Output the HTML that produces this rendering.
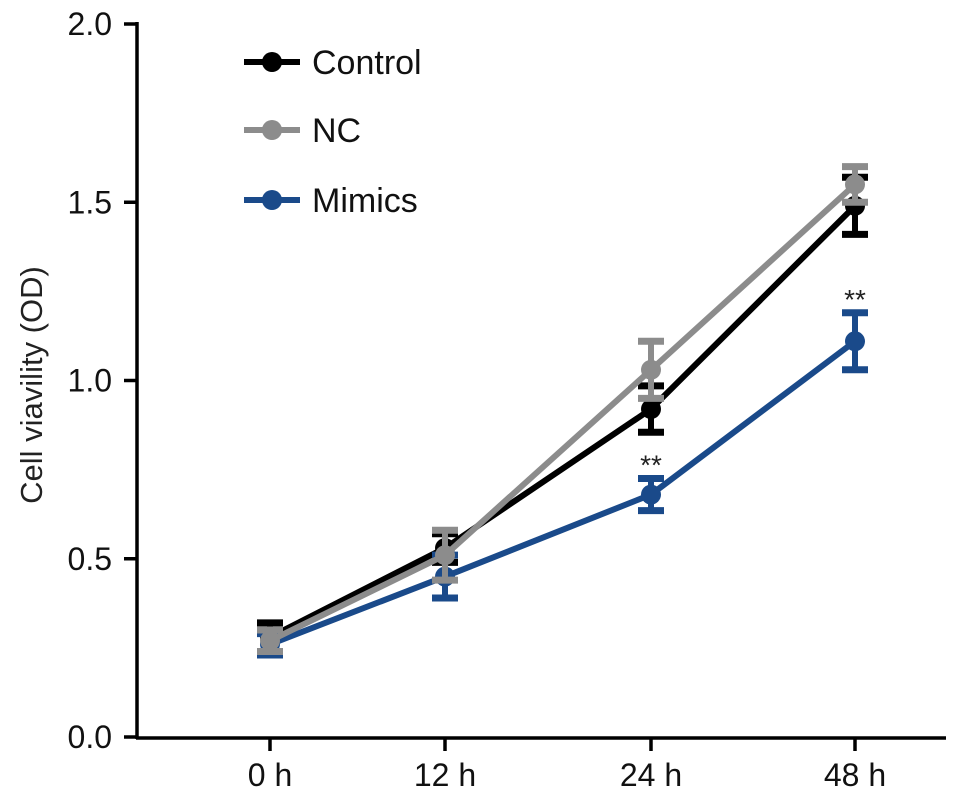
<!DOCTYPE html>
<html><head><meta charset="utf-8"><style>
body{margin:0;background:#fff}
text{font-family:"Liberation Sans",Arial,sans-serif}
</style></head><body>
<svg id="chart" width="969" height="794" xmlns="http://www.w3.org/2000/svg"></svg>
<script>
const categories=["0 h","12 h","24 h","48 h"];
const controlVals=[0.28,0.53,0.92,1.49];
const controlErr=[0.04,0.04,0.065,0.08];
const ncVals=[0.27,0.51,1.03,1.55];
const ncErr=[0.03,0.07,0.08,0.05];
const mimicsVals=[0.26,0.45,0.68,1.11];
const mimicsErr=[0.03,0.06,0.045,0.08];
const yTicks=[0,0.5,1.0,1.5,2.0];
const sigMarks=[null,null,"**","**"];

const NS="http://www.w3.org/2000/svg";
const svg=document.getElementById('chart');
const xPos=[270,445,651,855];
const xs=i=>xPos[i];
const ys=v=>737-v*356.5;
function mk(tag,attrs,parent){const e=document.createElementNS(NS,tag);for(const k in attrs)e.setAttribute(k,attrs[k]);(parent||svg).appendChild(e);return e;}

const axes=mk('g',{});


mk('line',{x1:137,y1:22,x2:137,y2:739,stroke:'#000','stroke-width':3.5},axes);
mk('line',{x1:136,y1:738,x2:946,y2:738,stroke:'#000','stroke-width':3.5},axes);
yTicks.forEach(t=>{
  const y=ys(t);
  mk('line',{x1:124,y1:y,x2:137,y2:y,stroke:'#000','stroke-width':3.5},axes);
  const tx=mk('text',{x:112,y:y+11,'text-anchor':'end','font-size':32,fill:'#111'},axes);
  tx.textContent=t.toFixed(1);
  
  
});
categories.forEach((c,i)=>{
  mk('line',{x1:xs(i),y1:738,x2:xs(i),y2:751,stroke:'#000','stroke-width':3.5},axes);
  const tx=mk('text',{x:xs(i),y:786,'text-anchor':'middle','font-size':32,fill:'#111'},axes);
  tx.textContent=c;
  
  
});
const yt=mk('text',{x:0,y:0,transform:'translate(42,385) rotate(-90)','text-anchor':'middle','font-size':31,fill:'#222'});
yt.textContent='Cell viavility (OD)';



function series(vals,errs,color,name){
  const g=mk('g',{});
  
  
  mk('polyline',{points:vals.map((v,i)=>xs(i)+','+ys(v)).join(' '),fill:'none',stroke:color,'stroke-width':6},g);
  vals.forEach((v,i)=>{
    const x=xs(i),t=ys(v+errs[i]),b=ys(v-errs[i]);
    mk('line',{x1:x,y1:t,x2:x,y2:b,stroke:color,'stroke-width':6},g);
    mk('line',{x1:x-13,y1:t,x2:x+13,y2:t,stroke:color,'stroke-width':7},g);
    mk('line',{x1:x-13,y1:b,x2:x+13,y2:b,stroke:color,'stroke-width':7},g);
    const c=mk('circle',{cx:x,cy:ys(v),r:10,fill:color},g);
    
    
  });
}
series(controlVals,controlErr,'#000','control-series');
series(mimicsVals,mimicsErr,'#1a4a8a','mimics-series');
series(ncVals,ncErr,'#8c8c8c','nc-series');

sigMarks.forEach((s,i)=>{
  if(!s)return;
  const tx=mk('text',{x:xs(i),y:ys(mimicsVals[i]+mimicsErr[i])-4,'text-anchor':'middle','font-size':28,fill:'#222'});
  tx.textContent=s;
  
  
});

const legend=[["Control","#000",62],["NC","#8c8c8c",130],["Mimics","#1a4a8a",200]];
legend.forEach(([l,c,y])=>{
  const g=mk('g',{});
  
  
  mk('line',{x1:244,y1:y,x2:300,y2:y,stroke:c,'stroke-width':6},g);
  mk('circle',{cx:272,cy:y,r:10,fill:c},g);
  const tx=mk('text',{x:312,y:y+12,'font-size':34,fill:'#111'},g);
  tx.textContent=l;
});
</script>
</body></html>
